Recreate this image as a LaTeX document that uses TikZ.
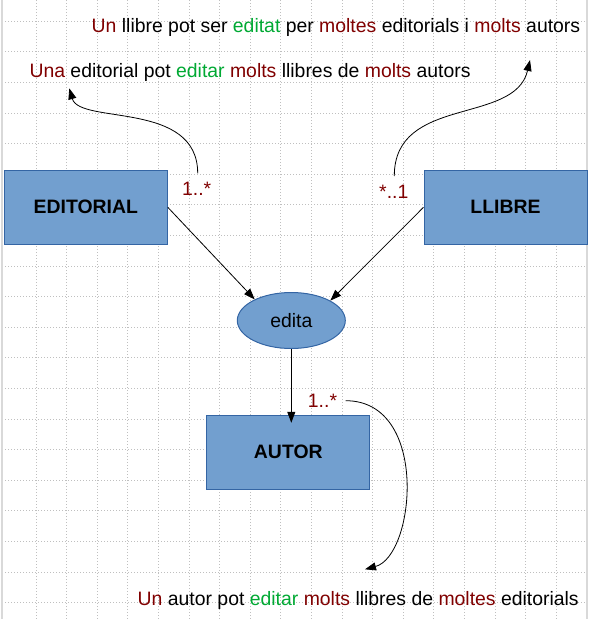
\documentclass[tikz,border=0pt]{standalone}
\usepackage{fontspec}
\setmainfont{Liberation Sans}
\usepackage{xcolor}
\usetikzlibrary{shapes,arrows.meta,calc}

\definecolor{boxFill}{HTML}{729FCF}
\definecolor{boxLine}{HTML}{3465A4}
\definecolor{wordRed}{HTML}{800000}
\definecolor{wordGreen}{HTML}{00A933}

\newcommand{\wRed}[1]{\textcolor{wordRed}{#1}}
\newcommand{\wGreen}[1]{\textcolor{wordGreen}{#1}}

\tikzstyle{tsText} = [ 
    text=black, 
    inner sep=0pt,
    font=\fontsize{19.4}{23}\selectfont
]
\tikzstyle{tsBold} = [ 
    tsText, 
    font=\fontsize{19.4}{23}\selectfont\bfseries
]
\tikzstyle{tsEntity} = [ 
    rectangle,
    tsBold,               
    draw=boxLine,
    fill=boxFill,
    line width=1pt,
    minimum width=163pt,
    minimum height=74pt]
\tikzstyle{tsRelation} = [  
    ellipse,
    tsText,
    draw=boxLine,
    fill=boxFill,
    line width=1pt,
    minimum width=108pt,
    minimum height=56pt
]
\tikzstyle{tsCard} = [ 
    tsText, 
    text=wordRed,
    anchor=base
]
\tikzstyle{tsSentence} = [ 
    tsText, 
    anchor=base west
]
\tikzstyle{tsArrow} = [ 
    -{Triangle[length=11pt,width=8pt]},
    line width=0.8pt,
    draw=black
]
\tikzstyle{tsGrid} = [ 
    gray!50,
    line width=0.6pt,
    dash pattern=on 0.6pt off 2.4pt
]

\begin{document}
\begin{tikzpicture} [x=1pt, y=1pt]

        \useasboundingbox (0,0) rectangle (600,-619);

        % Dotted page grid and page borders
        \foreach \gx in {1,...,18}
            \draw[tsGrid] ({5.3+30.6*\gx},0) -- ({5.3+30.6*\gx},-619);
        \foreach \gy in {0,...,19}
            \draw[tsGrid] (2,{-21-30.6*\gy}) -- (587,{-21-30.6*\gy});
        \draw[gray!30, line width=1.2pt] (2,0) -- (2,-619);
        \draw[gray!30, line width=1.2pt] (587,0) -- (587,-619);

        % Entities and relation
        \node[tsEntity] (editorial) at (85.8,-207.3) {EDITORIAL};
        \node[tsEntity] (llibre) at (505.5,-207.3) {LLIBRE};
        \node[tsRelation] (edita) at (291.3,-320.5) {edita};
        \node[tsEntity] (autor) at (288.3,-452.3) {AUTOR};

        % Connecting arrows to the relation
        \draw[tsArrow] (editorial.east) -- (edita.150);
        \draw[tsArrow] (llibre.west) -- (edita.27);
        \draw[tsArrow, shorten >=-8pt] (edita.south) -- (edita.south |- autor.north);

        % Cardinalities
        \node[tsCard] (cardEditorial) at (196.7,-195) {1..*};
        \node[tsCard] (cardLlibre) at (393.8,-198.3) {*..1};
        \node[tsCard] (cardAutor) at (322.5,-407) {1..*};

        % Sentences
        \node[tsSentence] (txtLlibre) at (91.5,-32.3)
            {\wRed{Un} llibre pot ser \wGreen{editat} per \wRed{moltes} editorials i \wRed{molts} autors};
        \node[tsSentence] (txtEditorial) at (29.3,-77)
            {\wRed{Una} editorial pot \wGreen{editar} \wRed{molts} llibres de \wRed{molts} autors};
        \node[tsSentence] (txtAutor) at (137.5,-605)
            {\wRed{Un} autor pot \wGreen{editar} \wRed{molts} llibres de \wRed{moltes} editorials};

        % Curved arrows from cardinalities to sentences
        \coordinate (fromEditorial) at (197.7,-173.3);
        \coordinate (toEditorial) at (69.3,-88.3);
        \coordinate (fromLlibre) at (394.3,-176);
        \coordinate (toLlibre) at (530,-60);
        \coordinate (fromAutor) at (345.7,-400.7);
        \coordinate (toAutor) at (365,-569.3);

        \draw[tsArrow] (fromEditorial) to[out=90, in=-74, out distance=73pt, in distance=38pt] (toEditorial);
        \draw[tsArrow] (fromLlibre) to[out=90, in=-103, out distance=81pt, in distance=67pt] (toLlibre);
        \draw[tsArrow] (fromAutor) to[out=0, in=15, out distance=84pt, in distance=52pt] (toAutor);

\end{tikzpicture}
\end{document}
